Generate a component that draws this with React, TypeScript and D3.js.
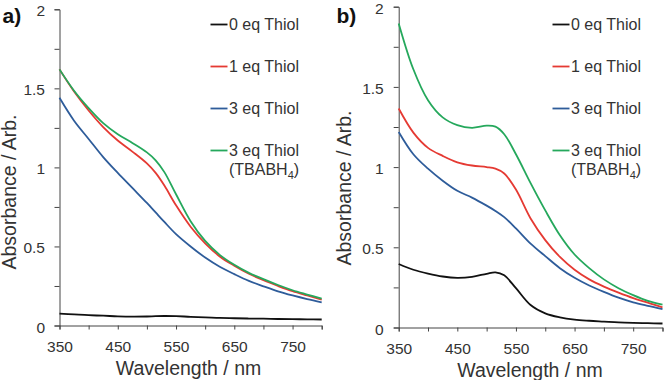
import React, { useRef, useEffect } from 'react';
import * as d3 from 'd3';

// wavelengths (nm) the curves are sampled at
const wavelengths = [350, 375, 400, 425, 450, 475, 500, 515, 530, 550, 575, 600, 625, 650, 675, 700, 725, 750, 775, 800];

// panel a)
const a0eq = [0.075, 0.07, 0.065, 0.062, 0.058, 0.056, 0.057, 0.059, 0.06, 0.059, 0.055, 0.052, 0.048, 0.046, 0.044, 0.043, 0.041, 0.04, 0.039, 0.038];
const a1eq = [1.62, 1.48, 1.36, 1.255, 1.17, 1.1, 1.025, 0.965, 0.885, 0.76, 0.625, 0.52, 0.437, 0.378, 0.327, 0.286, 0.25, 0.217, 0.19, 0.164];
const a3eq = [1.44, 1.295, 1.18, 1.065, 0.965, 0.87, 0.775, 0.715, 0.655, 0.578, 0.5, 0.43, 0.372, 0.325, 0.282, 0.248, 0.216, 0.19, 0.167, 0.147];
const a3eqTBA = [1.62, 1.485, 1.375, 1.28, 1.21, 1.155, 1.095, 1.045, 0.97, 0.83, 0.66, 0.535, 0.447, 0.384, 0.333, 0.293, 0.256, 0.223, 0.196, 0.17];

// panel b)
const b0eq = [0.396, 0.36, 0.336, 0.318, 0.31, 0.316, 0.335, 0.344, 0.325, 0.245, 0.14, 0.088, 0.063, 0.049, 0.042, 0.037, 0.032, 0.029, 0.027, 0.025];
const b1eq = [1.365, 1.215, 1.12, 1.07, 1.03, 1.01, 1.0, 0.99, 0.96, 0.86, 0.68, 0.545, 0.44, 0.36, 0.3, 0.255, 0.217, 0.183, 0.155, 0.125];
const b3eq = [1.219, 1.08, 0.99, 0.915, 0.852, 0.81, 0.76, 0.727, 0.688, 0.618, 0.523, 0.445, 0.37, 0.31, 0.262, 0.222, 0.186, 0.157, 0.135, 0.115];
const b3eqTBA = [1.896, 1.61, 1.417, 1.31, 1.262, 1.245, 1.258, 1.252, 1.205, 1.08, 0.9, 0.73, 0.575, 0.455, 0.37, 0.3, 0.245, 0.202, 0.166, 0.142];

const legendLabels = ['0 eq Thiol', '1 eq Thiol', '3 eq Thiol', '3 eq Thiol'];
const colors = ['#111111', '#e53a33', '#2e5c9a', '#25a85c'];

const xTicks = [350, 400, 450, 500, 550, 600, 650, 700, 750, 800];
const xLabels = [350, 450, 550, 650, 750];
const yTicks = [0, 0.25, 0.5, 0.75, 1, 1.25, 1.5, 1.75, 2];
const yLabels = [0, 0.5, 1, 1.5, 2];

const FONT = 'Liberation Sans, Arial, sans-serif';
const TEXT = '#333';

const panels = [
  {
    tag: 'a)', series: [a0eq, a1eq, a3eq, a3eqTBA],
    x0: 59.5, x1: 321.7, y0: 325.5, y2: 9.3, pad: 9.5,
    legX: 210.5, xTitle: 188.5, xTitleY: 375, yTitleX: 15.5, yTitleY: 192,
  },
  {
    tag: 'b)', series: [b0eq, b1eq, b3eq, b3eqTBA],
    x0: 398.7, x1: 662.5, y0: 327.5, y2: 6.7, pad: 10,
    legX: 552.5, xTitle: 530, xTitleY: 376.5, yTitleX: 351, yTitleY: 188,
  },
];

const App = () => {
  const ref = useRef(null);

  useEffect(() => {
    const svg = d3.select(ref.current);
    svg.selectAll('*').remove();

    panels.forEach((p, pi) => {
      const x = d3.scaleLinear().domain([350, 800]).range([p.x0, p.x1]);
      const y = d3.scaleLinear().domain([0, 2]).range([p.y0, p.y2]);

      const g = svg.append('g');

      // y axis
      g.append('g')
        .attr('transform', `translate(${p.x0},0)`)
        .call(d3.axisLeft(y).tickValues(yTicks).tickSize(5).tickPadding(p.pad)
          .tickFormat(d => (yLabels.includes(d) ? d3.format('')(d) : '')))
        .call(ax => ax.selectAll('line,path').attr('stroke', '#444'))
        .call(ax => ax.selectAll('text').attr('fill', TEXT).attr('font-size', 15.5).attr('font-family', FONT).attr('dy', '0.42em'));

      // x axis
      g.append('g')
        .attr('transform', `translate(0,${p.y0})`)
        .call(d3.axisBottom(x).tickValues(xTicks).tickSize(4).tickPadding(11)
          .tickFormat(d => (xLabels.includes(d) ? String(d) : '')))
        .call(ax => ax.selectAll('line,path').attr('stroke', '#444'))
        .call(ax => ax.selectAll('text').attr('fill', TEXT).attr('font-size', 15.5).attr('font-family', FONT));

      const line = d3.line()
        .x((d, i) => x(wavelengths[i]))
        .y(d => y(d))
        .curve(d3.curveCatmullRom.alpha(0.5));

      p.series.forEach((s, si) => {
        g.append('path')
          .datum(s)
          .attr('fill', 'none')
          .attr('stroke', colors[si])
          .attr('stroke-width', 1.8)
          .attr('d', line);
      });

      // legend
      const legY = [24.5, 66.5, 108.5, 150.5];
      legendLabels.forEach((lab, i) => {
        g.append('line')
          .attr('x1', p.legX).attr('x2', p.legX + 17)
          .attr('y1', legY[i]).attr('y2', legY[i])
          .attr('stroke', colors[i]).attr('stroke-width', 1.8);
        g.append('text')
          .attr('x', p.legX + 18.5).attr('y', legY[i] + 5.8)
          .attr('font-family', FONT).attr('font-size', 16).attr('fill', TEXT)
          .text(lab);
      });
      const sub = g.append('text')
        .attr('x', p.legX + 18.5).attr('y', legY[3] + 24)
        .attr('font-family', FONT).attr('font-size', 16).attr('fill', TEXT);
      sub.append('tspan').text('(TBABH');
      sub.append('tspan').attr('font-size', 11).attr('dy', 4).text('4');
      sub.append('tspan').attr('dy', -4).text(')');

      // axis titles
      g.append('text')
        .attr('x', p.xTitle).attr('y', p.xTitleY)
        .attr('text-anchor', 'middle')
        .attr('font-family', FONT).attr('font-size', 19.5).attr('fill', TEXT)
        .text('Wavelength / nm');
      g.append('text')
        .attr('transform', `translate(${p.yTitleX},${p.yTitleY}) rotate(-90)`)
        .attr('text-anchor', 'middle')
        .attr('font-family', FONT).attr('font-size', 19.5).attr('fill', TEXT)
        .text('Absorbance / Arb.');

      // panel tag
      g.append('text')
        .attr('x', pi === 0 ? 2.5 : 336.5).attr('y', 22.5)
        .attr('font-family', FONT).attr('font-size', 21).attr('font-weight', 'bold').attr('fill', '#111')
        .text(p.tag);
    });
  }, []);

  return (
    <svg
      ref={ref}
      width={665}
      height={380}
      style={{ position: 'absolute', left: 0, top: 0, background: '#fff' }}
    />
  );
};

export default App;
